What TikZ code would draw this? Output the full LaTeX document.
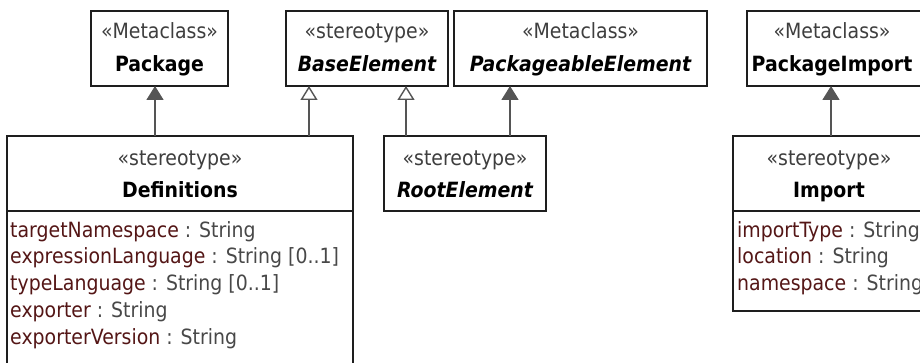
\documentclass[tikz,border=0pt]{standalone}
\usepackage{fontspec}
\setmainfont{DejaVu Sans}[FakeStretch=0.9]
\usetikzlibrary{arrows.meta}

\definecolor{attrname}{RGB}{84,22,22}
\definecolor{attrtype}{RGB}{72,72,72}
\definecolor{stereo}{RGB}{62,62,62}
\definecolor{edge}{RGB}{85,85,85}
\definecolor{frame}{RGB}{30,30,30}

\newcommand{\aname}[1]{\textcolor{attrname}{#1}}

\begin{document}
\begin{tikzpicture}[x=1pt,y=-1pt,
  umlbox/.style={draw=frame, line width=1.6pt, fill=white, rectangle,
    anchor=north west, inner sep=0pt, outer sep=0pt},
  stereotxt/.style={anchor=base, inner sep=0pt, text=stereo,
    font=\fontsize{21}{24}\selectfont},
  nametxt/.style={anchor=base, inner sep=0pt,
    font=\fontsize{21}{24}\selectfont\bfseries},
  abstxt/.style={anchor=base, inner sep=0pt,
    font=\fontsize{21}{24}\selectfont\bfseries\itshape},
  attrtxt/.style={anchor=base west, inner sep=0pt, text=attrtype,
    font=\fontsize{21}{24}\selectfont},
  compsep/.style={draw=frame, line width=1.6pt},
  ext/.style={draw=edge, line width=1.6pt,
    -{Triangle[width=17pt,length=14pt,fill=edge]}},
  gen/.style={draw=edge, line width=1.4pt,
    -{Triangle[width=17pt,length=14pt,fill=white]}}
]
\useasboundingbox (0,0) rectangle (920,363);

% metaclasses and abstract stereotypes (top row)
\node[umlbox, minimum width=137pt, minimum height=75pt] (pkg) at (91,11) {};
\node[stereotxt] (pkgS) at (159.5,38.5) {«Metaclass»};
\node[nametxt]   (pkgN) at (159.5,72) {Package};

\node[umlbox, minimum width=162pt, minimum height=75pt] (base) at (286,11) {};
\node[stereotxt] (baseS) at (367,38.5) {«stereotype»};
\node[abstxt]    (baseN) at (367,72) {BaseElement};

\node[umlbox, minimum width=253pt, minimum height=75pt] (pel) at (454,11) {};
\node[stereotxt] (pelS) at (580.5,38.5) {«Metaclass»};
\node[abstxt]    (pelN) at (580.5,72) {PackageableElement};

\node[umlbox, minimum width=176pt, minimum height=75pt] (pim) at (747,11) {};
\node[stereotxt] (pimS) at (832,38.5) {«Metaclass»};
\node[nametxt]   (pimN) at (832,72) {PackageImport};

% stereotypes (second row)
\node[umlbox, minimum width=346pt, minimum height=250pt] (defs) at (7,136) {};
\draw[compsep] (defs.north west) ++(0,75) -- ++(346,0);
\node[stereotxt] (defsS) at (180,165.5) {«stereotype»};
\node[nametxt]   (defsN) at (180,198) {Definitions};
\node[attrtxt] (d1) at (10,237) {\aname{targetNamespace} : String};
\node[attrtxt] (d2) at (10,263.8) {\aname{expressionLanguage} : String [0..1]};
\node[attrtxt] (d3) at (10,290.6) {\aname{typeLanguage} : String [0..1]};
\node[attrtxt] (d4) at (10,317.4) {\aname{exporter} : String};
\node[attrtxt] (d5) at (10,344.2) {\aname{exporterVersion} : String};

\node[umlbox, minimum width=162pt, minimum height=75pt] (root) at (384,136) {};
\node[stereotxt] (rootS) at (465,165.5) {«stereotype»};
\node[abstxt]    (rootN) at (465,198) {RootElement};

\node[umlbox, minimum width=192pt, minimum height=175pt] (imp) at (733,136) {};
\draw[compsep] (imp.north west) ++(0,75) -- ++(192,0);
\node[stereotxt] (impS) at (829,165.5) {«stereotype»};
\node[nametxt]   (impN) at (829,198) {Import};
\node[attrtxt] (i1) at (737,237) {\aname{importType} : String};
\node[attrtxt] (i2) at (737,263.8) {\aname{location} : String};
\node[attrtxt] (i3) at (737,290.6) {\aname{namespace} : String};

% connector columns
\coordinate (xpkg)  at (155,0);
\coordinate (xdb)   at (309,0);
\coordinate (xrb)   at (406,0);
\coordinate (xrp)   at (510,0);
\coordinate (xpim)  at (831,0);

% extensions (filled heads) and generalizations (hollow heads)
\draw[ext] (defs.north -| xpkg) -- (pkg.south -| xpkg);
\draw[gen] (defs.north -| xdb)  -- (base.south -| xdb);
\draw[gen] (root.north -| xrb)  -- (base.south -| xrb);
\draw[ext] (root.north -| xrp)  -- (pel.south -| xrp);
\draw[ext] (imp.north -| xpim)  -- (pim.south -| xpim);
\end{tikzpicture}
\end{document}
